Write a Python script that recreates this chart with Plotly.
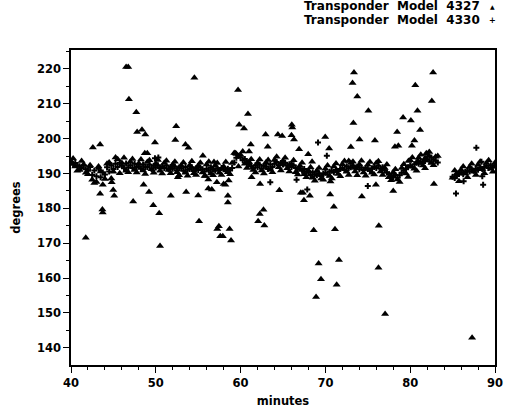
import numpy as np
import plotly.graph_objects as go

# ---------------- data ----------------
# Model 4330: regular samples every 0.25 min (two segments)
m4330_seg1_start = 40.0
m4330_seg1 = [
    193.2, 192.6, 193.0, 192.4, 192.1, 191.6, 192.3, 191.2,
    190.8, 191.9, 189.6, 190.9, 189.2, 191.4, 188.9, 190.3,
    189.7, 191.8, 190.6, 192.4, 191.3, 192.8, 191.9, 193.1,
    192.2, 191.5, 192.9, 191.7, 192.4, 191.6, 192.8, 191.9,
    192.1, 191.4, 192.6, 191.8, 191.9, 192.5, 191.3, 192.2,
    191.7, 192.4, 191.5, 192.0, 191.6, 192.3, 191.2, 191.9,
    191.4, 192.0, 190.9, 191.7, 191.5, 190.8, 191.9, 191.1,
    191.3, 191.8, 190.7, 191.5, 191.0, 191.7, 191.2, 190.6,
    191.4, 190.9, 191.8, 191.2, 190.8, 191.5, 191.0, 191.6,
    191.2, 190.7, 191.4, 190.9, 191.6, 193.2, 194.5, 195.1,
    194.6, 193.8, 194.2, 193.1, 192.7, 192.1, 191.6, 192.4,
    191.8, 192.5, 191.4, 192.2, 192.0, 191.3, 192.6, 191.9,
    192.8, 193.3, 192.4, 193.0, 192.6, 193.1, 192.2, 192.7,
    191.9, 192.4, 191.6, 191.2, 191.5, 190.8, 191.3, 190.6,
    190.2, 189.6, 190.4, 189.8, 189.5, 190.1, 189.3, 189.9,
    190.2, 189.7, 190.5, 190.8, 190.4, 191.1, 190.7, 191.3,
    191.6, 191.0, 192.1, 191.5, 191.8, 192.3, 191.4, 191.9,
    191.2, 191.7, 191.0, 191.6, 191.3, 190.8, 191.5, 191.9,
    191.6, 192.2, 191.4, 191.8, 190.9, 190.3, 189.8, 189.4,
    189.0, 189.6, 188.8, 189.5, 190.2, 190.9, 191.4, 191.8,
    192.3, 191.9, 192.7, 193.1, 192.8, 193.4, 193.0, 193.6,
    194.1, 193.5, 194.6, 194.0, 193.7, 193.2,
]
m4330_seg2_start = 85.0
m4330_seg2 = [
    189.1, 188.7, 189.4, 189.9, 190.3, 189.8, 190.5, 190.9,
    190.6, 191.2, 190.8, 191.4, 191.1, 191.7, 191.3, 191.9,
    192.2, 191.6, 192.4, 191.8, 192.3,
]
m4330_step = 0.25
# Model 4330 isolated readings
m4330_extra_x = [49.9, 50.3, 63.5, 66.6, 67.86, 69.13, 70.17, 75.0, 85.4, 86.3, 87.8, 88.4, 88.5, 88.6]
m4330_extra_y = [194.4, 194.6, 187.5, 188.2, 185.4, 198.9, 195.1, 186.4, 184.3, 187.8, 197.4, 193.4, 189.2, 186.8]

# Model 4327: band readings every 0.5 min (two passes, two segments each)
m4327_step = 0.5
m4327_seg1_start = 40.0
m4327_seg1 = [
    193.5, 192.0, 191.0, 192.6, 189.8, 188.2, 187.6, 190.6,
    188.4, 193.2, 190.5, 194.1, 193.0, 190.8, 193.4, 191.0,
    192.9, 190.9, 193.3, 191.2, 192.8, 190.8, 193.0, 191.0,
    192.6, 190.4, 192.3, 190.2, 192.4, 190.1, 192.2, 190.3,
    192.6, 190.0, 192.3, 190.2, 192.0, 190.4, 193.0, 195.6,
    195.3, 192.8, 193.3, 191.0, 193.0, 190.9, 193.2, 191.1,
    193.9, 191.8, 193.6, 191.5, 192.7, 190.4, 192.2, 189.8,
    190.9, 188.8, 190.8, 188.6, 191.4, 189.3, 192.0, 189.9,
    192.7, 190.5, 193.0, 190.6, 192.6, 190.3, 192.5, 190.2,
    193.0, 190.6, 191.6, 188.9, 190.4, 188.3, 191.6, 190.0,
    193.8, 191.4, 194.5, 192.3, 195.6, 193.0, 194.8,
]
m4327_seg1b_start = 40.25
m4327_seg1b = [
    194.3, 190.8, 193.6, 190.2, 192.4, 187.3, 192.0, 186.8,
    192.8, 188.6, 194.6, 190.1, 194.5, 190.4, 194.2, 190.3,
    194.0, 189.9, 193.8, 190.2, 193.9, 190.0, 193.7, 190.1,
    193.4, 189.5, 193.2, 189.4, 193.5, 189.6, 193.1, 189.3,
    193.4, 189.5, 193.0, 189.6, 193.3, 189.8, 195.9, 192.0,
    196.3, 191.6, 194.1, 190.3, 194.0, 190.0, 193.9, 190.4,
    194.8, 190.9, 194.5, 190.6, 193.8, 189.7, 193.1, 188.9,
    191.8, 187.9, 191.6, 188.2, 192.3, 188.6, 192.9, 189.2,
    193.6, 189.6, 193.4, 189.5, 193.7, 189.4, 193.3, 189.7,
    193.5, 189.6, 192.6, 188.1, 191.2, 187.6, 192.7, 189.0,
    194.6, 190.8, 195.4, 191.5, 196.2, 192.4, 195.0,
]
m4327_seg2_start = 85.0
m4327_seg2 = [188.8, 190.1, 191.1, 190.0, 191.9, 190.5, 192.5, 191.2, 193.0, 191.4, 193.1]
m4327_seg2b_start = 85.25
m4327_seg2b = [190.9, 187.8, 192.0, 188.9, 192.8, 189.6, 193.4, 190.1, 193.8, 190.5]
# Model 4327 scattered readings
m4327_extra_x = [
    41.74, 42.58, 43.43, 43.43, 43.70, 43.74, 44.80, 44.98, 45.10, 46.50,
    46.75, 46.83, 47.33, 47.70, 47.80, 48.37, 48.56, 48.70, 48.76, 49.00,
    49.20, 49.70, 49.90, 50.40, 50.50, 51.77, 52.30, 52.40, 52.60, 53.50,
    53.58, 53.85, 54.55, 55.00, 55.10, 55.55, 55.85, 56.20, 56.20, 56.60,
    56.86, 57.20, 57.25, 57.44, 57.60, 57.90, 58.00, 58.20, 58.50, 58.50,
    58.60, 58.70, 58.87, 59.40, 59.70, 59.83, 60.40, 60.87, 61.00, 61.20,
    61.30, 62.07, 62.26, 62.30, 62.70, 62.80, 62.95, 63.20, 64.40, 64.57,
    64.90, 66.04, 66.10, 66.00, 66.30, 66.90, 67.10, 67.35, 67.47, 67.97,
    68.17, 68.43, 68.62, 68.90, 69.20, 69.48, 69.98, 70.44, 70.56, 70.60,
    71.00, 71.13, 71.33, 71.60, 72.75, 73.00, 73.20, 73.30, 73.37, 73.76,
    74.03, 74.30, 75.07, 75.84, 75.96, 76.26, 76.30, 77.04, 77.50, 78.00,
    78.20, 78.46, 78.60, 79.16, 79.80, 80.08, 80.20, 80.50, 80.60, 80.86,
    80.90, 81.17, 81.75, 81.90, 82.20, 82.55, 82.70, 82.80, 87.30,
]
m4327_extra_y = [
    171.6, 197.5, 198.3, 184.2, 179.7, 178.8, 187.5, 185.3, 183.6, 220.6,
    220.6, 211.3, 182.0, 207.6, 201.9, 202.6, 186.8, 195.8, 201.2, 195.8,
    184.7, 180.9, 198.9, 178.6, 169.2, 183.6, 199.6, 203.6, 188.9, 198.3,
    184.7, 197.4, 217.5, 183.7, 176.3, 195.1, 189.3, 185.7, 188.3, 185.4,
    193.3, 187.5, 174.1, 174.9, 172.0, 172.0, 187.0, 186.8, 183.6, 181.7,
    188.0, 174.1, 170.8, 195.8, 214.0, 204.0, 202.9, 207.1, 196.3, 198.3,
    188.9, 176.3, 178.4, 187.0, 179.6, 175.1, 201.2, 197.7, 201.2, 185.2,
    200.8, 204.0, 203.2, 201.0, 199.8, 197.0, 184.5, 184.5, 182.3, 195.5,
    183.6, 193.4, 173.7, 154.6, 164.2, 159.7, 200.5, 197.2, 184.0, 187.7,
    180.5, 174.0, 158.1, 165.2, 193.6, 197.6, 216.0, 204.5, 219.0, 212.1,
    199.8, 183.4, 208.0, 199.5, 186.8, 163.0, 175.0, 149.7, 188.9, 185.0,
    197.7, 201.9, 198.0, 206.1, 193.6, 205.2, 198.0, 199.5, 215.3, 208.0,
    193.6, 202.5, 194.4, 195.8, 195.0, 210.8, 219.0, 187.0, 142.9,
]

x_ticks = [40, 50, 60, 70, 80, 90]
y_ticks = [140, 150, 160, 170, 180, 190, 200, 210, 220]
legend_labels = ["Transponder  Model  4327", "Transponder  Model  4330"]


def grid(start, step, vals):
    return [start + step * i for i in range(len(vals))]


x4330 = (grid(m4330_seg1_start, m4330_step, m4330_seg1)
         + grid(m4330_seg2_start, m4330_step, m4330_seg2) + m4330_extra_x)
y4330 = m4330_seg1 + m4330_seg2 + m4330_extra_y
x4327 = (grid(m4327_seg1_start, m4327_step, m4327_seg1)
         + grid(m4327_seg1b_start, m4327_step, m4327_seg1b)
         + grid(m4327_seg2_start, m4327_step, m4327_seg2)
         + grid(m4327_seg2b_start, m4327_step, m4327_seg2b) + m4327_extra_x)
y4327 = m4327_seg1 + m4327_seg1b + m4327_seg2 + m4327_seg2b + m4327_extra_y

FONT = "DejaVu Sans"

fig = go.Figure()
fig.add_trace(go.Scatter(
    x=x4330, y=y4330, mode="markers", name=legend_labels[1],
    marker=dict(symbol="cross", size=5, color="black", line=dict(width=0)),
    showlegend=False,
))
fig.add_trace(go.Scatter(
    x=x4327, y=y4327, mode="markers", name=legend_labels[0],
    marker=dict(symbol="triangle-up", size=7, color="black", line=dict(width=0)),
    showlegend=False,
))

axis_common = dict(
    showgrid=False, zeroline=False, showline=True, linecolor="black", linewidth=1.6,
    mirror=True, ticks="outside", ticklen=6, tickwidth=1.4, tickcolor="black",
    tickfont=dict(family=FONT, size=11.5, color="black", weight="bold"),
)

fig.update_xaxes(
    range=[40, 90], tickvals=x_ticks,
    minor=dict(dtick=2, ticks="outside", ticklen=3, tickwidth=1.2, tickcolor="black"),
    title=dict(text="minutes", font=dict(family=FONT, size=11.5, color="black", weight="bold"), standoff=8),
    **axis_common,
)
fig.update_yaxes(
    range=[135.06, 225.45], tickvals=y_ticks,
    minor=dict(dtick=5, ticks="outside", ticklen=3, tickwidth=1.2, tickcolor="black"),
    title=dict(text="degrees", font=dict(family=FONT, size=11.5, color="black", weight="bold"), standoff=14),
    **axis_common,
)

# legend drawn as right-aligned text with the symbol to its right
leg_font = dict(family=FONT, size=12, color="black", weight="bold")
fig.add_annotation(xref="paper", yref="paper", x=1.0, y=1.0, xshift=-13, yshift=44,
                   text=legend_labels[0], showarrow=False, xanchor="right", yanchor="middle", font=leg_font)
fig.add_annotation(xref="paper", yref="paper", x=1.0, y=1.0, xshift=-13, yshift=30,
                   text=legend_labels[1], showarrow=False, xanchor="right", yanchor="middle", font=leg_font)
fig.add_annotation(xref="paper", yref="paper", x=1.0, y=1.0, xshift=-3, yshift=44,
                   text="▲", showarrow=False, xanchor="center", yanchor="middle",
                   font=dict(family=FONT, size=6, color="black"))
fig.add_annotation(xref="paper", yref="paper", x=1.0, y=1.0, xshift=-3, yshift=30,
                   text="+", showarrow=False, xanchor="center", yanchor="middle",
                   font=dict(family=FONT, size=8, color="black", weight="bold"))

fig.update_layout(
    width=510, height=413,
    margin=dict(l=71, r=7, t=50, b=43, pad=0),
    plot_bgcolor="white", paper_bgcolor="white",
    font=dict(family=FONT, color="black"),
)

fig.write_html("out.html")
